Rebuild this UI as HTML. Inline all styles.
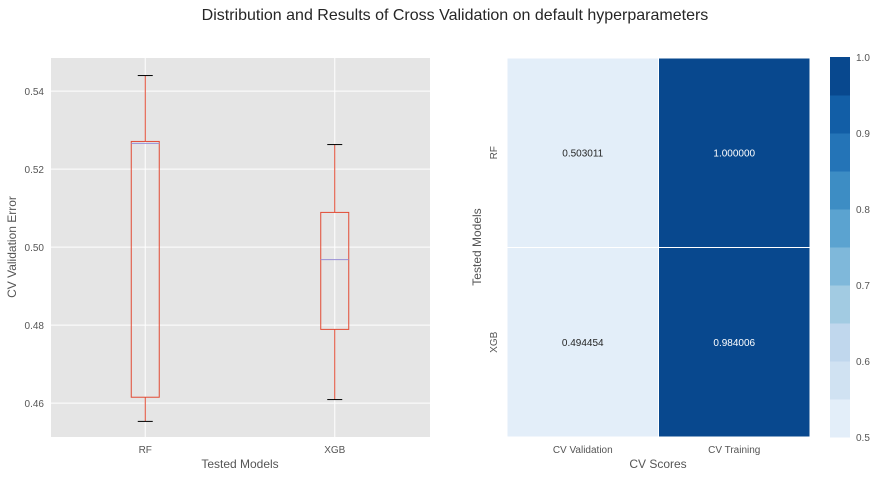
<!DOCTYPE html>
<html><head><meta charset="utf-8"><style>
body{margin:0;background:#fff;}
svg{display:block;font-family:"Liberation Sans",sans-serif;}
</style></head><body>
<svg id="fig" width="876" height="478" viewBox="0 0 876 478">
<text x="455" y="20" text-anchor="middle" font-size="16" fill="#262626">Distribution and Results of Cross Validation on default hyperparameters</text>
<g id="left"></g>
<g id="right"></g>
</svg>
<script>
const models = ["RF", "XGB"];
const whiskerLow = [0.4553, 0.4609];
const q1 = [0.4615, 0.4789];
const median = [0.5266, 0.4968];
const q3 = [0.5271, 0.5089];
const whiskerHigh = [0.5440, 0.5263];
const yTicks = [0.46, 0.48, 0.50, 0.52, 0.54];

const scoreCols = ["CV Validation", "CV Training"];
const cvValidation = [0.503011, 0.494454];
const cvTraining = [1.000000, 0.984006];
const cbTicks = [0.5, 0.6, 0.7, 0.8, 0.9, 1.0];

const NS = "http://www.w3.org/2000/svg";
function mk(parent, tag, attrs, txt) {
  const e = document.createElementNS(NS, tag);
  for (const k in attrs) e.setAttribute(k, attrs[k]);
  if (txt !== undefined) e.textContent = txt;
  parent.appendChild(e);
  return e;
}
const L = document.getElementById("left");
const R = document.getElementById("right");

// Left axes
const ax = {x0: 51, x1: 430, y0: 58, y1: 437, vmin: 0.4513, vmax: 0.5485};
const yS = v => ax.y1 - (v - ax.vmin) / (ax.vmax - ax.vmin) * (ax.y1 - ax.y0);
const xS = i => ax.x0 + (ax.x1 - ax.x0) * (i + 0.5) / models.length - 0.5;
let e = mk(L, "rect", {x: ax.x0, y: ax.y0, width: ax.x1 - ax.x0, height: ax.y1 - ax.y0, fill: "#e5e5e5"});


yTicks.forEach(t => {
  const y = yS(t);
  let g = mk(L, "line", {x1: ax.x0, x2: ax.x1, y1: y, y2: y, stroke: "#fff", "stroke-width": 1});
  
  
  let tx = mk(L, "text", {x: ax.x0 - 7, y: y + 4, "text-anchor": "end", "font-size": 10, fill: "#555"}, t.toFixed(2));
  
  
});
models.forEach((m, i) => {
  const x = xS(i);
  let g = mk(L, "line", {x1: x, x2: x, y1: ax.y0, y2: ax.y1, stroke: "#fff", "stroke-width": 1});
  
  
  let tx = mk(L, "text", {x: x, y: 453, "text-anchor": "middle", "font-size": 10, fill: "#555"}, m);
  
  
});
models.forEach((m, i) => {
  const x = xS(i), hw = 14, cw = 7.5;
  const grp = mk(L, "g", {});
  
  
  mk(grp, "line", {x1: x, x2: x, y1: yS(whiskerHigh[i]), y2: yS(q3[i]), stroke: "#E24A33", "stroke-width": 1});
  mk(grp, "line", {x1: x, x2: x, y1: yS(q1[i]), y2: yS(whiskerLow[i]), stroke: "#E24A33", "stroke-width": 1});
  mk(grp, "line", {x1: x - cw, x2: x + cw, y1: yS(whiskerHigh[i]), y2: yS(whiskerHigh[i]), stroke: "#000", "stroke-width": 1});
  mk(grp, "line", {x1: x - cw, x2: x + cw, y1: yS(whiskerLow[i]), y2: yS(whiskerLow[i]), stroke: "#000", "stroke-width": 1});
  mk(grp, "rect", {x: x - hw, y: yS(q3[i]), width: 2 * hw, height: yS(q1[i]) - yS(q3[i]), fill: "none", stroke: "#E24A33", "stroke-width": 1});
  mk(grp, "line", {x1: x - hw, x2: x + hw, y1: yS(median[i]), y2: yS(median[i]), stroke: "#988ED5", "stroke-width": 1});
});
e = mk(L, "text", {x: 240, y: 468, "text-anchor": "middle", "font-size": 12, fill: "#555"}, "Tested Models");


e = mk(L, "text", {x: 16, y: 247, "text-anchor": "middle", "font-size": 12, fill: "#555", transform: "rotate(-90 16 247)"}, "CV Validation Error");



// Heatmap
const hm = {x0: 507, x1: 810, y0: 58, y1: 437, vmin: 0.5, vmax: 1.0};
const blues = ["#e3eef9", "#d0e2f2", "#c0d7ed", "#a2cbe2", "#7fb8da", "#5ba3d0", "#3d8dc4", "#2474b7", "#125ea6", "#08488e"];
const colorOf = v => { let k = Math.floor((v - hm.vmin) / (hm.vmax - hm.vmin) * 10); k = Math.max(0, Math.min(9, k)); return blues[k]; };
const cw2 = (hm.x1 - hm.x0) / scoreCols.length, rh = (hm.y1 - hm.y0) / models.length;
const cols = [cvValidation, cvTraining];
models.forEach((m, r) => {
  cols.forEach((arr, c) => {
    const v = arr[r];
    const x = hm.x0 + c * cw2, y = hm.y0 + r * rh;
    let cell = mk(R, "rect", {x: x, y: y, width: cw2, height: rh, fill: colorOf(v), stroke: "#fff", "stroke-width": 1});
    
    
  });
});
models.forEach((m, r) => {
  cols.forEach((arr, c) => {
    const v = arr[r];
    const x = hm.x0 + c * cw2, y = hm.y0 + r * rh;
    let tx = mk(R, "text", {x: x + cw2 / 2, y: y + rh / 2 + 3.5, "text-anchor": "middle", "font-size": 10, fill: v > 0.75 ? "#fff" : "#262626"}, v.toFixed(6));
    
    
  });
  const cy = hm.y0 + (r + 0.5) * rh;
  let tl = mk(R, "text", {x: 497, y: cy, "text-anchor": "middle", "font-size": 10, fill: "#555", transform: `rotate(-90 497 ${cy})`}, m);
  
  
});
scoreCols.forEach((s, c) => {
  let tx = mk(R, "text", {x: hm.x0 + (c + 0.5) * cw2, y: 453, "text-anchor": "middle", "font-size": 10, fill: "#555"}, s);
  
  
});
e = mk(R, "text", {x: 658, y: 468, "text-anchor": "middle", "font-size": 12, fill: "#555"}, "CV Scores");


e = mk(R, "text", {x: 481, y: 247, "text-anchor": "middle", "font-size": 12, fill: "#555", transform: "rotate(-90 481 247)"}, "Tested Models");



// Colorbar
const cb = {x: 830, w: 20, y0: 57, y1: 437};
const cbY = v => cb.y1 - (v - hm.vmin) / (hm.vmax - hm.vmin) * (cb.y1 - cb.y0);
blues.forEach((col, k) => {
  const lo = hm.vmin + k * 0.05, hi = lo + 0.05;
  let s = mk(R, "rect", {x: cb.x, y: cbY(hi), width: cb.w, height: cbY(lo) - cbY(hi) + 0.5, fill: col});
  
  
});
cbTicks.forEach(t => {
  let tx = mk(R, "text", {x: 856, y: cbY(t) + 4, "font-size": 10, fill: "#555"}, t.toFixed(1));
  
  
});
</script>
</body></html>
